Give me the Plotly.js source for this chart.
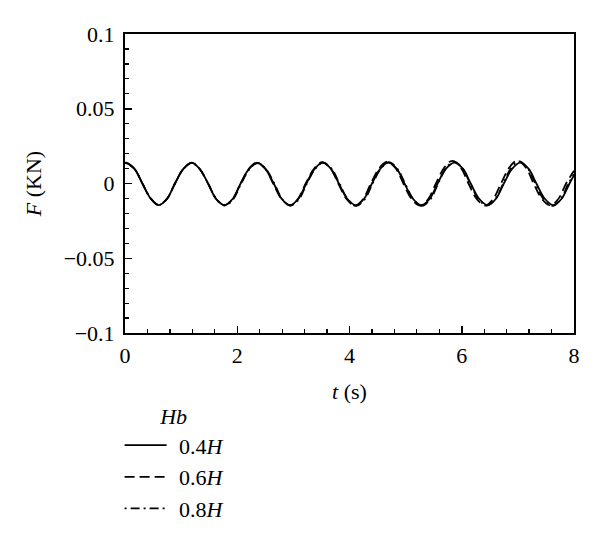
<!DOCTYPE html>
<html>
<head>
<meta charset="utf-8">
<script src="https://cdn.plot.ly/plotly-3.0.1.min.js"></script>
<style>html,body{margin:0;padding:0;background:#fff;}#chart{width:600px;height:544px;}</style>
</head>
<body>
<div id="chart"></div>
<script>
// Series names
const seriesNames = ["0.4<i>H</i>", "0.6<i>H</i>", "0.8<i>H</i>"];

// 0.4H (solid)
const t04 = [0, 0.02, 0.17, 0.31, 0.46, 0.60, 0.75, 0.89, 1.04, 1.19, 1.33, 1.48, 1.62, 1.77, 1.92, 2.06, 2.21, 2.36, 2.50, 2.65, 2.79, 2.94, 3.09, 3.23, 3.38, 3.52, 3.67, 3.81, 3.96, 4.11, 4.26, 4.40, 4.55, 4.69, 4.84, 4.98, 5.13, 5.28, 5.43, 5.57, 5.72, 5.87, 6.02, 6.16, 6.31, 6.46, 6.61, 6.75, 6.90, 7.04, 7.19, 7.33, 7.48, 7.63, 7.78, 7.92, 8.0];
const f04 = [0.0138, 0.0139, 0.0098, 0.0000, -0.0102, -0.0145, -0.0102, 0.0000, 0.0098, 0.0138, 0.0098, 0.0000, -0.0102, -0.0145, -0.0102, 0.0000, 0.0098, 0.0138, 0.0098, 0.0000, -0.0102, -0.0145, -0.0102, 0.0000, 0.0098, 0.0139, 0.0098, 0.0000, -0.0102, -0.0145, -0.0102, 0.0000, 0.0099, 0.0139, 0.0099, 0.0000, -0.0102, -0.0145, -0.0102, 0.0000, 0.0099, 0.0140, 0.0099, 0.0000, -0.0102, -0.0145, -0.0102, 0.0000, 0.0099, 0.0140, 0.0099, 0.0000, -0.0102, -0.0145, -0.0102, 0.0000, 0.0056];

// 0.6H (dashed)
const t06 = [0, 0.02, 0.17, 0.31, 0.46, 0.60, 0.75, 0.89, 1.04, 1.19, 1.33, 1.48, 1.62, 1.77, 1.92, 2.06, 2.21, 2.35, 2.50, 2.64, 2.79, 2.94, 3.08, 3.22, 3.37, 3.51, 3.66, 3.80, 3.95, 4.10, 4.24, 4.38, 4.53, 4.67, 4.82, 4.96, 5.11, 5.26, 5.40, 5.54, 5.69, 5.83, 5.98, 6.12, 6.27, 6.42, 6.56, 6.70, 6.85, 6.99, 7.14, 7.28, 7.43, 7.58, 7.72, 7.86, 8.0];
const f06 = [0.0136, 0.0137, 0.0097, 0.0000, -0.0101, -0.0143, -0.0101, 0.0000, 0.0098, 0.0139, 0.0098, 0.0000, -0.0102, -0.0146, -0.0103, 0.0000, 0.0099, 0.0140, 0.0099, 0.0000, -0.0103, -0.0147, -0.0104, 0.0000, 0.0100, 0.0142, 0.0101, 0.0000, -0.0104, -0.0148, -0.0105, 0.0000, 0.0103, 0.0146, 0.0103, 0.0000, -0.0105, -0.0148, -0.0105, 0.0000, 0.0107, 0.0152, 0.0107, 0.0000, -0.0104, -0.0147, -0.0104, 0.0000, 0.0108, 0.0153, 0.0108, 0.0000, -0.0104, -0.0147, -0.0104, 0.0000, 0.0085];

// 0.8H (dash-dot)
const t08 = [0, 0.02, 0.17, 0.31, 0.46, 0.60, 0.75, 0.89, 1.04, 1.19, 1.33, 1.48, 1.63, 1.78, 1.93, 2.07, 2.22, 2.36, 2.51, 2.66, 2.80, 2.95, 3.10, 3.24, 3.39, 3.53, 3.68, 3.82, 3.97, 4.12, 4.27, 4.41, 4.56, 4.70, 4.85, 4.99, 5.14, 5.29, 5.44, 5.58, 5.72, 5.86, 6.01, 6.15, 6.30, 6.45, 6.60, 6.74, 6.88, 7.02, 7.17, 7.31, 7.46, 7.61, 7.76, 7.90, 8.0];
const f08 = [0.0137, 0.0138, 0.0097, 0.0000, -0.0101, -0.0144, -0.0102, 0.0000, 0.0097, 0.0137, 0.0097, 0.0000, -0.0103, -0.0147, -0.0104, 0.0000, 0.0097, 0.0137, 0.0097, 0.0000, -0.0104, -0.0148, -0.0105, 0.0000, 0.0098, 0.0139, 0.0099, 0.0000, -0.0106, -0.0150, -0.0106, 0.0000, 0.0100, 0.0142, 0.0100, 0.0000, -0.0106, -0.0150, -0.0106, 0.0000, 0.0103, 0.0146, 0.0103, 0.0000, -0.0104, -0.0148, -0.0104, 0.0000, 0.0104, 0.0148, 0.0104, 0.0000, -0.0106, -0.0150, -0.0106, 0.0000, 0.0062];

// Tick values and labels
const xTickVals = [0, 2, 4, 6, 8];
const yTickVals = [-0.1, -0.05, 0, 0.05, 0.1];
const yTickText = ["\u22120.1", "\u22120.05", "0", "0.05", "0.1"];

const FONT = "Liberation Serif";
const FS = 22;

const traces = [
  {x: t04, y: f04, name: seriesNames[0], dash: "solid"},
  {x: t06, y: f06, name: seriesNames[1], dash: "10px,5px"},
  {x: t08, y: f08, name: seriesNames[2], dash: "2px,4px,9px,4px"}
].map(s => ({
  type: "scatter", mode: "lines", x: s.x, y: s.y, name: "\u2004" + s.name,
  line: {color: "#000", width: 1.8, dash: s.dash, shape: "spline", smoothing: 1}
}));

const layout = {
  width: 600, height: 544,
  margin: {l: 125, r: 26, t: 34, b: 211, autoexpand: false},
  paper_bgcolor: "#fff", plot_bgcolor: "#fff",
  font: {family: FONT, size: FS, color: "#000"},
  showlegend: true,
  legend: {
    x: -0.012, xanchor: "left", y: -0.21, yanchor: "top",
    itemwidth: 42,
    title: {text: "<i>Hb</i>", side: "top center", font: {family: FONT, size: FS}},
    font: {family: FONT, size: FS, color: "#000"},
    bgcolor: "rgba(0,0,0,0)", tracegroupgap: 0
  },
  xaxis: {
    range: [0, 8], tickvals: xTickVals, ticktext: xTickVals.map(String),
    ticks: "inside", ticklen: 7, tickwidth: 1.5, tickcolor: "#000",
    minor: {dtick: 0.4, ticks: "inside", ticklen: 4, tickwidth: 1.2, tickcolor: "#000"},
    showline: true, linecolor: "#000", linewidth: 2, mirror: true,
    showgrid: false, zeroline: false,
    ticklabelstandoff: 2, automargin: true,
    tickfont: {family: FONT, size: FS},
    title: {text: "<i>t</i> (s)", font: {family: FONT, size: FS}, standoff: 16}
  },
  yaxis: {
    range: [-0.1, 0.1], tickvals: yTickVals, ticktext: yTickText,
    ticks: "inside", ticklen: 7, tickwidth: 1.5, tickcolor: "#000",
    minor: {dtick: 0.01, ticks: "inside", ticklen: 4, tickwidth: 1.2, tickcolor: "#000"},
    showline: true, linecolor: "#000", linewidth: 2, mirror: true,
    showgrid: false, zeroline: false,
    ticklabelstandoff: 4, automargin: true,
    tickfont: {family: FONT, size: FS},
    title: {text: "<i>F</i> (KN)", font: {family: FONT, size: FS}, standoff: 16}
  }
};

Plotly.newPlot("chart", traces, layout, {staticPlot: true, displayModeBar: false});
</script>
</body>
</html>
